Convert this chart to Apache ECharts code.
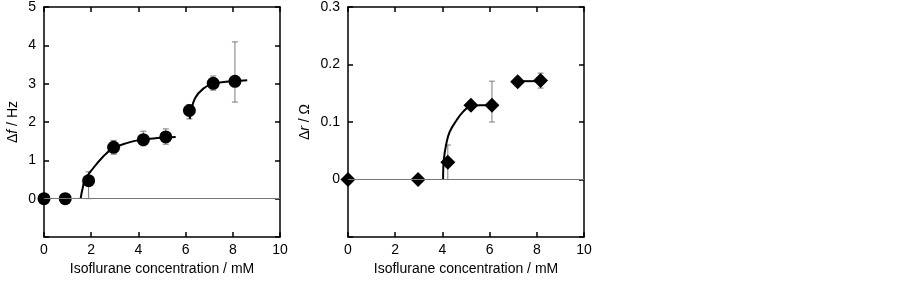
<!DOCTYPE html>
<html>
<head>
<meta charset="utf-8">
<style>
html, body { margin: 0; padding: 0; background: #fff; }
#chartDiv { width: 902px; height: 281px; }
</style>
<script src="https://cdn.jsdelivr.net/npm/echarts@6/dist/echarts.min.js"></script>
</head>
<body>
<div id="chartDiv"></div>
<script>
// left panel: frequency shift
var fX = [0, 0.9, 1.89, 2.95, 4.21, 5.16, 6.16, 7.17, 8.09];
var fY = [0, 0, 0.47, 1.34, 1.54, 1.61, 2.30, 3.01, 3.06];
var fLow = [null, null, 0.0, 1.16, 1.38, 1.42, 2.08, 2.83, 2.52];
var fHigh = [null, null, 0.70, 1.52, 1.76, 1.82, 2.45, 3.20, 4.09];
var fFit1 = [[1.55, 0], [1.64, 0.28], [1.74, 0.50], [2.09, 0.80], [2.51, 1.10], [2.89, 1.30], [3.5, 1.45], [4.14, 1.54], [4.8, 1.58], [5.58, 1.61]];
var fFit2 = [[6.18, 2.08], [6.22, 2.25], [6.40, 2.62], [6.75, 2.87], [7.17, 3.00], [7.7, 3.05], [8.09, 3.07], [8.61, 3.09]];

// right panel: resistance shift
var rX = [0, 2.97, 4.23, 5.21, 6.10, 7.19, 8.16];
var rY = [0, 0, 0.030, 0.129, 0.129, 0.170, 0.172];
var rLow = [null, null, 0.0, 0.122, 0.100, 0.163, 0.159];
var rHigh = [null, null, 0.060, 0.136, 0.171, 0.177, 0.185];
var rFit1 = [[4.03, 0], [4.06, 0.034], [4.17, 0.063], [4.31, 0.083], [4.60, 0.103], [4.88, 0.118], [5.16, 0.127], [5.6, 0.129], [6.0, 0.129]];
var rFit2 = [[7.19, 0.171], [8.16, 0.171]];

var xTicks = [0, 10, 2];
var fTicks = [-1, 5, 1];
var rTicks = [-0.1, 0.3, 0.1];

var font = 'Liberation Sans, Arial, sans-serif';

function pairs(xs, ys) {
	var out = [];
	for (var i = 0; i < xs.length; i++) out.push([xs[i], ys[i]]);
	return out;
}

function errData(xs, lo, hi) {
	var out = [];
	for (var i = 0; i < xs.length; i++) {
		if (lo[i] === null) continue;
		out.push([xs[i], lo[i], hi[i]]);
	}
	return out;
}

function renderErr(params, api) {
	var p1 = api.coord([api.value(0), api.value(1)]);
	var p2 = api.coord([api.value(0), api.value(2)]);
	var c = 3;
	var st = { stroke: '#7a7a7a', lineWidth: 1 };
	return {
		type: 'group',
		children: [
			{ type: 'line', shape: { x1: p1[0], y1: p1[1], x2: p2[0], y2: p2[1] }, style: st },
			{ type: 'line', shape: { x1: p1[0] - c, y1: p1[1], x2: p1[0] + c, y2: p1[1] }, style: st },
			{ type: 'line', shape: { x1: p2[0] - c, y1: p2[1], x2: p2[0] + c, y2: p2[1] }, style: st }
		]
	};
}

function xAxisDef(grid, bottom) {
	return {
		type: 'value', gridIndex: grid, position: bottom ? 'bottom' : 'top',
		min: xTicks[0], max: xTicks[1], interval: xTicks[2],
		name: bottom ? 'Isoflurane concentration / mM' : '',
		nameLocation: 'middle', nameGap: 23,
		nameTextStyle: { fontFamily: font, fontSize: 14, color: '#000' },
		axisLine: { onZero: false, lineStyle: { color: '#000', width: 1.5 } },
		axisTick: { inside: true, length: 5, lineStyle: { color: '#000', width: 1.5 } },
		axisLabel: { show: bottom, margin: 6, fontFamily: font, fontSize: 14, color: '#000' },
		splitLine: { show: false }
	};
}

function yAxisDef(grid, left, ticks, name, gap, fmt) {
	return {
		type: 'value', gridIndex: grid, position: left ? 'left' : 'right',
		min: ticks[0], max: ticks[1], interval: ticks[2],
		name: left ? name : '',
		nameLocation: 'middle', nameGap: gap,
		nameTextStyle: {
			fontFamily: font, fontSize: 14, color: '#000',
			rich: {
				d: { fontFamily: font, fontSize: 14, color: '#000' },
				i: { fontFamily: font, fontSize: 14, color: '#000', fontStyle: 'italic' }
			}
		},
		axisLine: { onZero: false, lineStyle: { color: '#000', width: 1.5 } },
		axisTick: { inside: true, length: 5, lineStyle: { color: '#000', width: 1.5 } },
		axisLabel: { show: left, margin: 8, fontFamily: font, fontSize: 14, color: '#000', formatter: fmt },
		splitLine: { show: false }
	};
}

var chart = echarts.init(document.getElementById('chartDiv'));

var zeroLine = {
	silent: true, symbol: 'none', label: { show: false },
	lineStyle: { color: '#777', width: 1.2, type: 'solid' },
	data: [{ yAxis: 0 }]
};

var option = {
	animation: false,
	grid: [
		{ left: 44, width: 236, top: 7, height: 230 },
		{ left: 348, width: 236, top: 7, height: 230 }
	],
	xAxis: [xAxisDef(0, true), xAxisDef(0, false), xAxisDef(1, true), xAxisDef(1, false)],
	yAxis: [
		yAxisDef(0, true, fTicks, '{d|Δ}{i|f}{d| / Hz}', 24, function (v) { return v < 0 ? '' : String(v); }),
		yAxisDef(0, false, fTicks, '', 0),
		yAxisDef(1, true, rTicks, '{d|Δ}{i|r}{d| / Ω}', 36, function (v) { return v < 0 ? '' : (v === 0 ? '0' : v.toFixed(1)); }),
		yAxisDef(1, false, rTicks, '', 0)
	],
	series: [
		{
			type: 'custom', xAxisIndex: 0, yAxisIndex: 0, renderItem: renderErr,
			data: errData(fX, fLow, fHigh), z: 2, encode: { x: 0, y: [1, 2] },
			markLine: zeroLine
		},
		{ type: 'line', xAxisIndex: 0, yAxisIndex: 0, data: fFit1, smooth: 0.4, showSymbol: false, lineStyle: { color: '#000', width: 2 }, z: 3 },
		{ type: 'line', xAxisIndex: 0, yAxisIndex: 0, data: fFit2, smooth: 0.4, showSymbol: false, lineStyle: { color: '#000', width: 2 }, z: 3 },
		{ type: 'scatter', xAxisIndex: 0, yAxisIndex: 0, data: pairs(fX, fY), symbol: 'circle', symbolSize: 13, itemStyle: { color: '#000', opacity: 1 }, z: 4 },
		{
			type: 'custom', xAxisIndex: 2, yAxisIndex: 2, renderItem: renderErr,
			data: errData(rX, rLow, rHigh), z: 2, encode: { x: 0, y: [1, 2] },
			markLine: zeroLine
		},
		{ type: 'line', xAxisIndex: 2, yAxisIndex: 2, data: rFit1, smooth: 0.4, showSymbol: false, lineStyle: { color: '#000', width: 2 }, z: 3 },
		{ type: 'line', xAxisIndex: 2, yAxisIndex: 2, data: rFit2, showSymbol: false, lineStyle: { color: '#000', width: 2 }, z: 3 },
		{ type: 'scatter', xAxisIndex: 2, yAxisIndex: 2, data: pairs(rX, rY), symbol: 'diamond', symbolSize: [15, 15], itemStyle: { color: '#000', opacity: 1 }, z: 4 }
	]
};

chart.setOption(option);
</script>
</body>
</html>
